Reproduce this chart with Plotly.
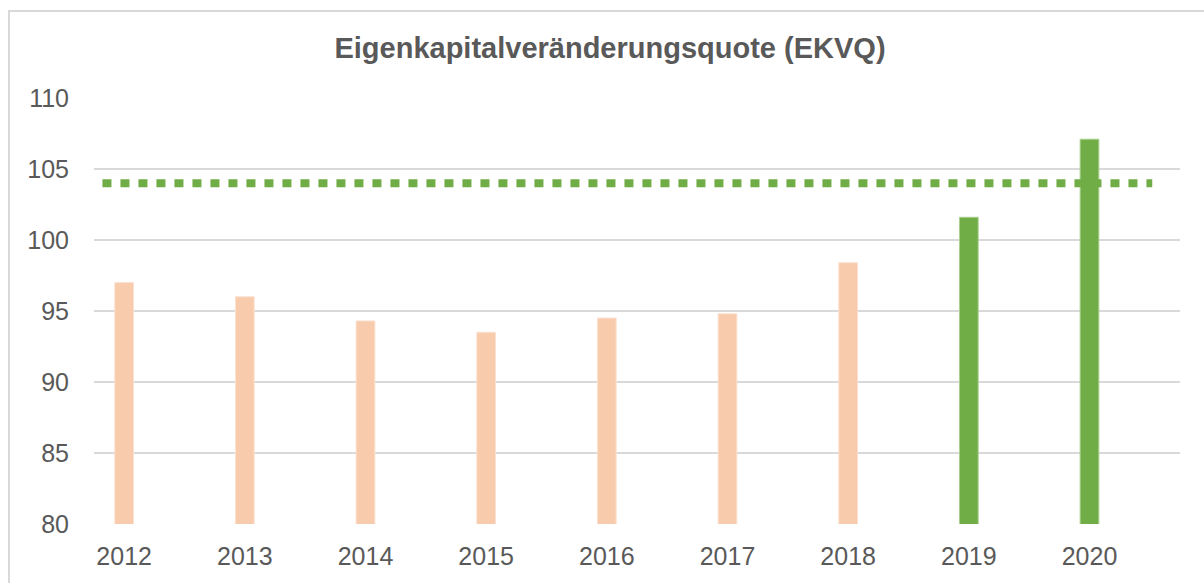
import plotly.graph_objects as go

years = [2012, 2013, 2014, 2015, 2016, 2017, 2018, 2019, 2020]
ekvq = [97.0, 96.0, 94.3, 93.5, 94.5, 94.8, 98.4, 101.6, 107.1]
threshold = 104
y_ticks = [80, 85, 90, 95, 100, 105, 110]
title = "Eigenkapitalveränderungsquote (EKVQ)"

ORANGE = "#F8CBAD"
GREEN = "#70AD47"
TEXT = "#595959"
GRID = "#D9D9D9"

bar_colors = [GREEN if v >= 100 else ORANGE for v in ekvq]
line_colors = ["#FBE0CF" if c == ORANGE else "#A9D08E" for c in bar_colors]

W, H = 1204, 583
L, R, T, B = 94, 24, 98, 59
pw, ph = W - L - R, H - T - B
FONT = "Liberation Sans, Arial, sans-serif"

fig = go.Figure()
fig.add_trace(go.Bar(
    x=years, y=ekvq, base=0, width=0.155,
    marker=dict(color=bar_colors, line=dict(color=line_colors, width=1)),
    showlegend=False, hoverinfo="x+y",
))
fig.add_trace(go.Scatter(
    x=[years[0] - 0.18, years[-1] + 0.52], y=[threshold, threshold],
    mode="lines", line=dict(color=GREEN, width=8, dash="9px,9px"),
    showlegend=False, hoverinfo="y",
))

fig.update_layout(
    width=W, height=H,
    margin=dict(l=L, r=R, t=T, b=B),
    paper_bgcolor="white", plot_bgcolor="white",
    font=dict(family=FONT, color=TEXT, size=25),
    title=dict(text="<b>" + title + "</b>", x=610 / W, xanchor="center",
               y=1 - 48 / H, yanchor="middle",
               font=dict(size=29, color=TEXT, family=FONT)),
    xaxis=dict(
        range=[years[0] - 0.25, years[-1] + 0.75],
        tickvals=years, ticktext=[str(y) for y in years],
        showgrid=False, zeroline=False, showline=False,
        ticks="", ticklabelstandoff=15,
        tickfont=dict(size=25, color=TEXT),
    ),
    yaxis=dict(
        range=[80, 110], tickvals=y_ticks,
        showgrid=True, gridcolor=GRID, gridwidth=2,
        zeroline=False, showline=False, ticks="",
        ticklabelstandoff=24,
        tickfont=dict(size=25, color=TEXT),
    ),
    shapes=[dict(
        type="rect", xref="paper", yref="paper",
        x0=(9 - L) / pw, x1=(1210 - L) / pw,
        y0=(H - B - 600) / ph, y1=(H - B - 11) / ph,
        line=dict(color=GRID, width=2), fillcolor="rgba(0,0,0,0)", layer="below",
    )],
)

fig.write_html("out.html", config={"displayModeBar": False},
               post_script="document.body.style.margin='0px';document.body.style.padding='0px';")
